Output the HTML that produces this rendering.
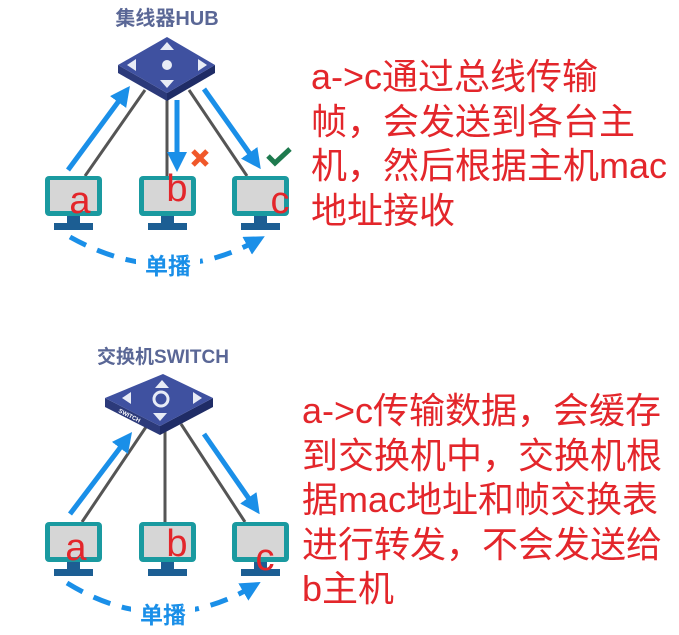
<!DOCTYPE html>
<html><head><meta charset="utf-8"><style>
html,body{margin:0;padding:0;background:#fff;width:679px;height:635px;overflow:hidden}
.t{position:absolute;color:#e3262b;font-family:"Liberation Sans","Noto Sans CJK SC",sans-serif;font-size:36px;line-height:44.5px;white-space:nowrap}
</style></head><body>
<svg width="679" height="635" style="position:absolute;left:0;top:0" font-family="Liberation Sans, Noto Sans CJK SC, sans-serif">
<defs>
<marker id="ah" markerWidth="4" markerHeight="4" refX="2" refY="2" orient="auto" markerUnits="strokeWidth"><path d="M0,0 L4,2 L0,4 Z" fill="#1a8fe8"/></marker>
<g id="mon">
<rect x="0" y="0" width="57" height="40" rx="4" fill="#1a9aa0"/>
<rect x="5" y="4" width="47" height="31" fill="#d6d6d6"/>
<rect x="22" y="40" width="13" height="7" fill="#1c5e93"/>
<rect x="9" y="47" width="39" height="7" fill="#1c5e93"/>
</g>
</defs>
<!-- TOP -->
<text x="167" y="25" text-anchor="middle" font-size="20" font-weight="bold" fill="#5a6796">集线器HUB</text>
<line x1="145" y1="90" x2="85" y2="176" stroke="#555" stroke-width="3"/>
<line x1="167" y1="96" x2="167" y2="176" stroke="#555" stroke-width="3"/>
<line x1="189" y1="90" x2="247" y2="176" stroke="#555" stroke-width="3"/>
<polygon points="118,65 167,93 167,101 118,73" fill="#2c3a7a"/>
<polygon points="167,93 215,65 215,73 167,101" fill="#1f2c66"/>
<polygon points="167,37 215,65 167,93 118,65" fill="#3f51a0"/>
<g fill="#e8ecf6"><polygon points="167,42 160,50 174,50"/><polygon points="167,88 160,80 174,80"/><polygon points="127,65 136,59 136,71"/><polygon points="207,65 198,59 198,71"/><circle cx="167" cy="65" r="5"/></g>
<line x1="68" y1="170" x2="124" y2="94" stroke="#1a8fe8" stroke-width="5" marker-end="url(#ah)"/>
<line x1="177" y1="100" x2="177" y2="162" stroke="#1a8fe8" stroke-width="5" marker-end="url(#ah)"/>
<line x1="204" y1="89" x2="255" y2="161" stroke="#1a8fe8" stroke-width="5" marker-end="url(#ah)"/>
<path d="M193,151 L207,165 M207,151 L193,165" stroke="#f0582a" stroke-width="5"/>
<path d="M268,156 L275,163 L290,149" stroke="#1e7a4e" stroke-width="5" fill="none"/>
<use href="#mon" x="45" y="176"/><use href="#mon" x="139" y="176"/><use href="#mon" x="232" y="176"/>
<text x="80" y="213" text-anchor="middle" font-size="38" fill="#e3262b">a</text>
<text x="177" y="201" text-anchor="middle" font-size="38" fill="#e3262b">b</text>
<text x="280" y="213" text-anchor="middle" font-size="38" fill="#e3262b">c</text>
<path d="M70,237 Q165,290 256,241" stroke="#1a8fe8" stroke-width="5" fill="none" stroke-dasharray="18,12" marker-end="url(#ah)"/>
<rect x="136" y="248" width="64" height="30" fill="#fff"/>
<text x="168" y="274" text-anchor="middle" font-size="23" font-weight="bold" fill="#1a8fe8">单播</text>
<!-- BOTTOM -->
<text x="163" y="363" text-anchor="middle" font-size="19" font-weight="bold" fill="#5a6796">交换机SWITCH</text>
<line x1="148" y1="424" x2="82" y2="522" stroke="#555" stroke-width="3"/>
<line x1="165" y1="430" x2="165" y2="522" stroke="#555" stroke-width="3"/>
<line x1="181" y1="424" x2="245" y2="522" stroke="#555" stroke-width="3"/>
<polygon points="105,398 160,426 160,435 105,407" fill="#2c3a7a"/>
<polygon points="160,426 213,398 213,407 160,435" fill="#1f2c66"/>
<polygon points="163,374 213,398 160,426 105,398" fill="#3f51a0"/>
<text x="118" y="412" font-size="6" font-weight="bold" fill="#fff" transform="rotate(27 118 412)">SWITCH</text>
<g fill="#e8ecf6"><polygon points="162,380 155,388 169,388"/><polygon points="160,421 153,413 167,413"/><polygon points="122,398 131,392 131,404"/><polygon points="202,398 193,392 193,404"/><circle cx="161" cy="399" r="7" fill="none" stroke="#e8ecf6" stroke-width="3"/></g>
<line x1="70" y1="514" x2="126" y2="440" stroke="#1a8fe8" stroke-width="5" marker-end="url(#ah)"/>
<line x1="204" y1="434" x2="254" y2="506" stroke="#1a8fe8" stroke-width="5" marker-end="url(#ah)"/>
<use href="#mon" x="45" y="522"/><use href="#mon" x="139" y="522"/><use href="#mon" x="232" y="522"/>
<text x="76" y="560" text-anchor="middle" font-size="38" fill="#e3262b">a</text>
<text x="177" y="556" text-anchor="middle" font-size="38" fill="#e3262b">b</text>
<text x="265" y="570" text-anchor="middle" font-size="38" fill="#e3262b">c</text>
<path d="M67,583 Q160,640 252,587" stroke="#1a8fe8" stroke-width="5" fill="none" stroke-dasharray="18,12" marker-end="url(#ah)"/>
<rect x="131" y="597" width="64" height="32" fill="#fff"/>
<text x="163" y="623" text-anchor="middle" font-size="23" font-weight="bold" fill="#1a8fe8">单播</text>
</svg>
<div class="t" style="left:311px;top:55px">a-&gt;c通过总线传输<br>帧，会发送到各台主<br>机，然后根据主机mac<br>地址接收</div>
<div class="t" style="left:302px;top:389px">a-&gt;c传输数据，会缓存<br>到交换机中，交换机根<br>据mac地址和帧交换表<br>进行转发，不会发送给<br>b主机</div>
</body></html>
